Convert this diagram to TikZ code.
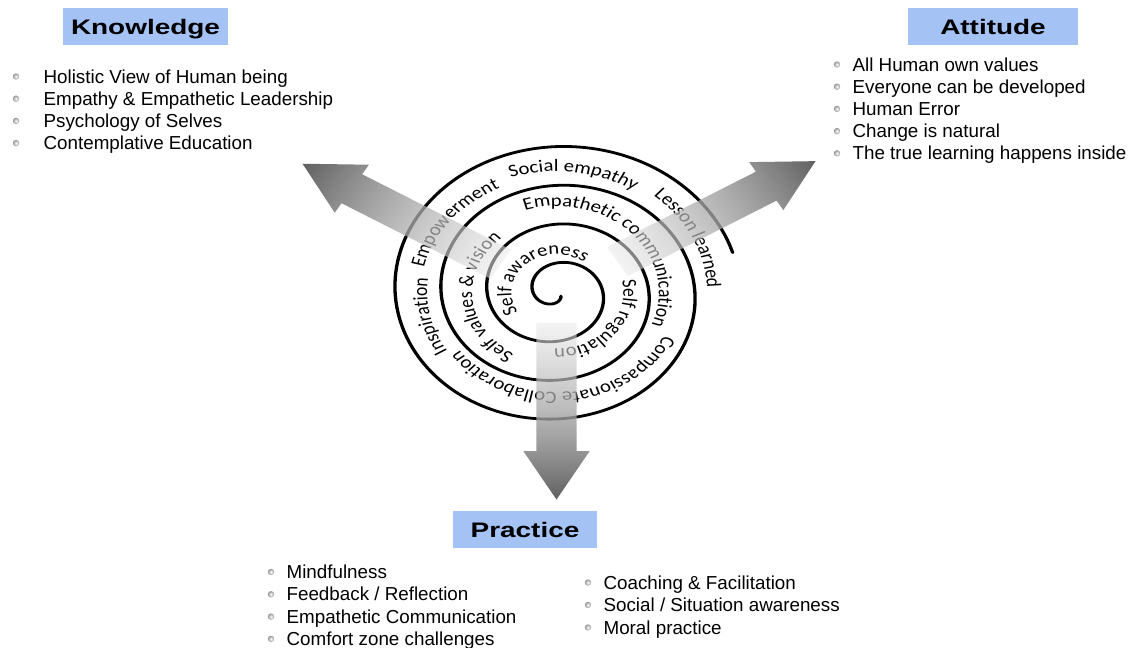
\documentclass[tikz,border=0pt]{standalone}
\usepackage{fontspec}
\usepackage{graphicx}
\setmainfont{Liberation Sans}
\newfontfamily\spiralfont{Carlito}
\usetikzlibrary{decorations.text, fadings, positioning}
\definecolor{capBlue}{RGB}{164,194,244}
\definecolor{capDot}{RGB}{150,150,150}
\definecolor{capArrow}{RGB}{96,96,96}
\def\spA{19.8}
\def\spB{0.10778}
\tikzfading[name=capfade, left color=transparent!45, right color=transparent!0]
\tikzset{
  headbox/.style={fill=capBlue, inner sep=0pt, minimum height=37pt, text height=16pt, text depth=0pt, font=\bfseries\fontsize{21}{21}\selectfont},
  itemtext/.style={anchor=west, inner sep=0pt, text height=13.4pt, text depth=0pt, font=\fontsize{18.8}{18.8}\selectfont},
  bulletdot/.style={circle, inner sep=0pt, minimum size=6.4pt, inner color=white, outer color=capDot},
  spiraltext/.style={decorate, decoration={text along path, text align=center, text={|\spiralfont\fontsize{17.5}{17.5}\selectfont|#1}}},
  bigarrow/.style={left color=black!8, right color=capArrow, path fading=capfade}
}
\begin{document}
\begin{tikzpicture}[x=1pt, y=1pt]
  \fill[white] (0,0) rectangle (1141,648);
  \useasboundingbox (0,0) rectangle (1141,648);

  % the spiral, its labels and the three arrows
  \begin{scope}[transform canvas={shift={(556.5,355.5)}, xscale=1.185}]
    \draw[line width=2.8pt, line cap=round] plot[domain=-136:1245, samples=420, smooth]
      ({(\spA+\spB*\x)*cos(180-\x)}, {(\spA+\spB*\x)*sin(180-\x)});
    \path[spiraltext={Self awareness}] (232:38) arc[start angle=232, end angle=32, radius=38];
    \path[spiraltext={Self regulation}] (40:56.5) arc[start angle=40, end angle=-120, radius=56.5];
    \path[spiraltext={Self values {\&} vision}] (265:71.1) arc[start angle=265, end angle=105, radius=71.1];
    \path[spiraltext={Empathetic communication}] (123:86.4) arc[start angle=123, end angle=-37, radius=86.4];
    \path[spiraltext={Compassionate Collaboration}] (-5:100.2) arc[start angle=-5, end angle=-165, radius=100.2];
    \path[spiraltext={Inspiration}] (232:109.1) arc[start angle=232, end angle=153, radius=109.1];
    \path[spiraltext={Empowerment}] (186:114.6) arc[start angle=186, end angle=96, radius=114.6];
    \path[spiraltext={Social empathy}] (128:120.9) arc[start angle=128, end angle=38, radius=120.9];
    \path[spiraltext={Lesson learned}] (71:127) arc[start angle=71, end angle=-19, radius=127];
    \foreach \ang/\st/\len in {149/55/250, 31/60/255, 270/30/207} {
      \begin{scope}[transform canvas={rotate=\ang}]
        \shade[bigarrow] (\st,-16.9) -- (\len-48.5,-16.9) -- (\len-48.5,-28) -- (\len,0)
          -- (\len-48.5,28) -- (\len-48.5,16.9) -- (\st,16.9) -- cycle;
      \end{scope}
    }
  \end{scope}

  \node[headbox, minimum width=165pt] (knowledge) at (145.5,621.5) {\scalebox{1.33}[1]{Knowledge}};
  \node[headbox, minimum width=170pt] (attitude) at (993,621.5) {\scalebox{1.33}[1]{Attitude}};
  \node[headbox, minimum width=144pt] (practice) at (525,118) {\scalebox{1.33}[1]{Practice}};

  \foreach \txt [count=\i] in {Holistic View of Human being, Empathy \& Empathetic Leadership,
      Psychology of Selves, Contemplative Education} {
    \node[bulletdot] (knowDot\i) at (16,{571.5-22.2*(\i-1)}) {};
    \node[itemtext, right=24pt of knowDot\i] (know\i) {\txt};
  }
  \foreach \txt [count=\i] in {All Human own values, Everyone can be developed, Human Error,
      Change is natural, The true learning happens inside} {
    \node[bulletdot] (attDot\i) at (837,{583.5-22.2*(\i-1)}) {};
    \node[itemtext, right=12pt of attDot\i] (att\i) {\txt};
  }
  \foreach \txt [count=\i] in {Mindfulness, Feedback / Reflection, Empathetic Communication,
      Comfort zone challenges} {
    \node[bulletdot] (pracDot\i) at (271,{76-22.3*(\i-1)}) {};
    \node[itemtext, right=12pt of pracDot\i] (prac\i) {\txt};
  }
  \foreach \txt [count=\i] in {Coaching \& Facilitation, Social / Situation awareness, Moral practice} {
    \node[bulletdot] (coachDot\i) at (588,{65.5-22.5*(\i-1)}) {};
    \node[itemtext, right=12pt of coachDot\i] (coach\i) {\txt};
  }
\end{tikzpicture}
\end{document}
